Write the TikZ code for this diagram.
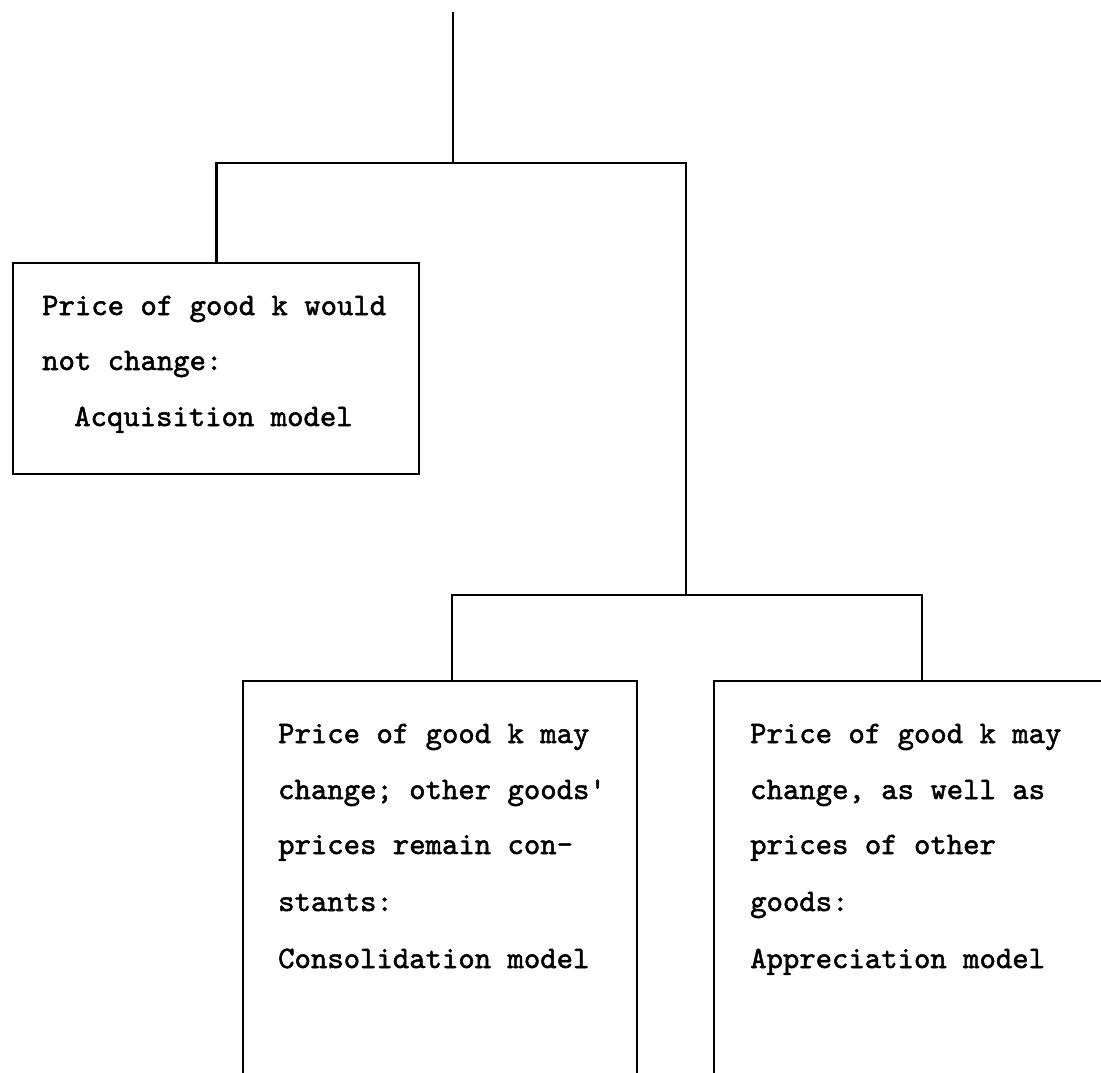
\documentclass[tikz,border=0pt]{standalone}
\usepackage{fontspec}
\newfontfamily\typew{lmmono10-regular.otf}[RawFeature={embolden=1.6}]
\begin{document}
\begin{tikzpicture}[x=1pt,y=-1pt,
  conn/.style={line width=2.6pt, line cap=rect},
  boxnode/.style={draw, line width=2.4pt, rectangle, inner sep=0pt, anchor=north west},
  txt/.style={anchor=base west, inner sep=0pt, font=\typew\fontsize{31.2}{34}\selectfont}]
\useasboundingbox (0,0) rectangle (1101,1072);
% boxes
\node[boxnode, minimum width=406pt, minimum height=211pt] (b1) at (12,262) {};
\node[boxnode, minimum width=394pt, minimum height=450pt] (b2) at (242,680) {};
\node[boxnode, minimum width=418pt, minimum height=450pt] (b3) at (713,680) {};
% connectors
\coordinate (top) at (453,13);
\coordinate (j1) at (453,163);
\coordinate (j1r) at (686,163);
\coordinate (j2) at (686,595);
\coordinate (j2l) at (452,595);
\coordinate (j2r) at (922,595);
\draw[conn] (top) -- (j1);
\draw[conn] (b1.north) |- (j1r) -- (j2);
\draw[conn] (j2l |- b2.north) -- (j2l) -- (j2r) -- (j2r |- b3.north);
% texts box 1
\node[txt] (t11) at (42,315) {Price of good k would};
\node[txt] (t12) at (42,370) {not change:};
\node[txt] (t13) at (74,426) {Acquisition model};
% texts box 2
\node[txt] (t21) at (278,743) {Price of good k may};
\node[txt] (t22) at (278,799) {change; other goods'};
\node[txt] (t23) at (278,854) {prices remain con-};
\node[txt] (t24) at (278,911) {stants:};
\node[txt] (t25) at (278,968) {Consolidation model};
% texts box 3
\node[txt] (t31) at (750,743) {Price of good k may};
\node[txt] (t32) at (750,799) {change, as well as};
\node[txt] (t33) at (750,854) {prices of other};
\node[txt] (t34) at (750,911) {goods:};
\node[txt] (t35) at (750,968) {Appreciation model};
\end{tikzpicture}
\end{document}
